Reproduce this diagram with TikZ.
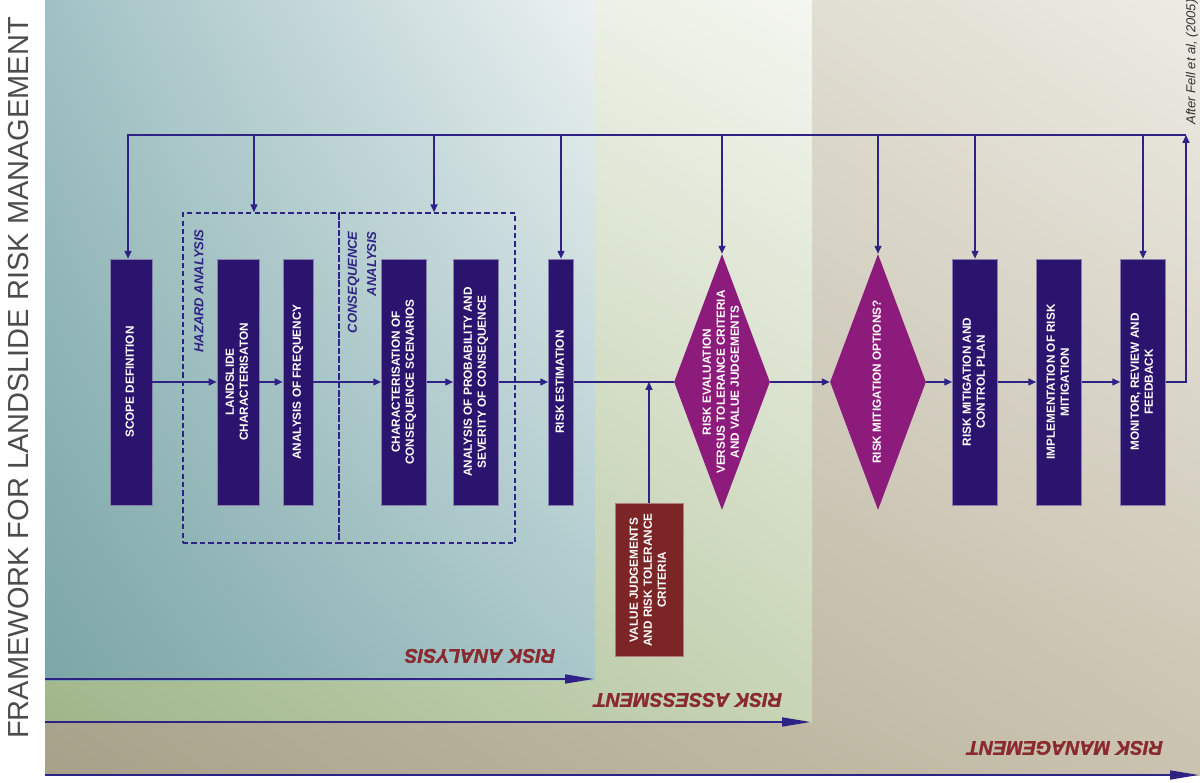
\documentclass[tikz,border=0pt]{standalone}
\usepackage{fontspec}
\setmainfont{Liberation Sans}
\newfontfamily\phasefont[FakeBold=1.6]{Liberation Sans}
\usepackage{graphicx}
\usetikzlibrary{shapes.geometric, arrows.meta, shadings}
\definecolor{navybox}{HTML}{2A146E}
\definecolor{flowline}{HTML}{2E2384}
\definecolor{magbox}{HTML}{8D1B7B}
\definecolor{redbox}{HTML}{7B2527}
\definecolor{redlab}{HTML}{8A2A2E}
% background corners
\definecolor{tanUL}{RGB}{200,195,176}\definecolor{tanUR}{RGB}{237,235,228}
\definecolor{tanLL}{RGB}{168,161,138}\definecolor{tanLR}{RGB}{201,195,175}
\definecolor{grnUL}{RGB}{216,226,202}\definecolor{grnUR}{RGB}{244,246,240}
\definecolor{grnLL}{RGB}{159,182,138}\definecolor{grnLR}{RGB}{200,213,182}
\definecolor{bluUL}{RGB}{160,193,196}\definecolor{bluUR}{RGB}{236,241,241}
\definecolor{bluLL}{RGB}{124,166,167}\definecolor{bluLR}{RGB}{169,199,202}
\newcommand{\vlab}[1]{\rotatebox{90}{\begin{tabular}{@{}c@{}}#1\end{tabular}}}
\tikzset{
  stagebox/.style  = {draw=navybox!55!white, line width=0.4pt, fill=navybox, text=white,
                      font=\fontsize{6.7}{8}\selectfont\bfseries, inner sep=0pt,
                      minimum height=4.92cm},
  inputbox/.style  = {stagebox, fill=redbox, draw=redbox!60!white},
  decision/.style  = {diamond, fill=magbox, inner sep=0pt,
                      minimum width=1.92cm, minimum height=5.12cm},
  dtext/.style     = {text=white, font=\fontsize{6.7}{8}\selectfont\bfseries, inner sep=0pt},
  groupframe/.style= {draw=flowline, dash pattern=on 3pt off 1.8pt, line width=0.9pt,
                      minimum height=6.6cm, inner sep=0pt},
  grouplab/.style  = {text=flowline, font=\fontsize{7.4}{11}\selectfont\bfseries\itshape,
                      inner sep=0pt, rotate=90, anchor=east},
  flow/.style      = {-{Triangle[length=4.5pt, width=4pt]}, line width=0.8pt, draw=flowline},
  plainline/.style = {line width=0.8pt, draw=flowline},
  phasearrow/.style= {-{Triangle[length=6mm, width=1.7mm]}, line width=1.7pt, draw=flowline},
  phaselab/.style  = {text=redlab, font=\phasefont\fontsize{11.2}{13}\selectfont\bfseries\itshape,
                      rotate=180, inner sep=0pt}
}

\begin{document}
\begin{tikzpicture}[x=0.02cm, y=-0.02cm]
\useasboundingbox (0,0) rectangle (1200,783);
% Phase backgrounds
\shade[upper left=tanUL, upper right=tanUR, lower left=tanLL, lower right=tanLR]
  (45,0) rectangle (1200,775);
\shade[upper left=grnUL, upper right=grnUR, lower left=grnLL, lower right=grnLR]
  (45,0) rectangle (812,722);
\shade[upper left=bluUL, upper right=bluUR, lower left=bluLL, lower right=bluLR]
  (45,0) rectangle (595,680);
% Title and source
\node[rotate=90, text=black!70, font=\fontsize{16.5}{18}\selectfont] (title) at (19,378)
  {FRAMEWORK FOR LANDSLIDE RISK MANAGEMENT};
\node[rotate=90, anchor=west, inner sep=0pt, text=black!80,
      font=\fontsize{7.4}{8}\selectfont\itshape] (source) at (1192,125) {After Fell et al, (2005)};
% Analysis groups
\node[groupframe, minimum width=3.12cm] (hazard) at (261,378) {};
\node[groupframe, minimum width=3.52cm] (conseq) at (427,378) {};
\node[grouplab] (hazlab) at (199,229) {HAZARD ANALYSIS};
\node[grouplab, align=right] (conlab) at (362,231) {CONSEQUENCE\\ANALYSIS};
% Process steps
\node[stagebox, minimum width=0.84cm] (scope) at (131,382) {\vlab{SCOPE DEFINITION}};
\node[stagebox, minimum width=0.84cm] (lands) at (238,382) {\vlab{LANDSLIDE\\CHARACTERISATON}};
\node[stagebox, minimum width=0.6cm]  (freq)  at (298,382) {\vlab{ANALYSIS OF FREQUENCY}};
\node[stagebox, minimum width=0.9cm]  (cons)  at (404,382) {\vlab{CHARACTERISATION OF\\CONSEQUENCE SCENARIOS}};
\node[stagebox, minimum width=0.9cm]  (prob)  at (476,382) {\vlab{ANALYSIS OF PROBABILITY AND\\SEVERITY OF CONSEQUENCE}};
\node[stagebox, minimum width=0.5cm]  (est)   at (561,382) {\vlab{RISK ESTIMATION}};
\node[decision, label={[dtext, name=evaltxt]center:{\vlab{RISK EVALUATION\\VERSUS TOLERANCE CRITERIA\\AND VALUE JUDGEMENTS}}}]
  (eval) at (722,382) {};
\node[decision, label={[dtext, name=opttxt]center:{\vlab{RISK MITIGATION OPTIONS?}}}]
  (opt) at (878,382) {};
\node[stagebox, minimum width=0.9cm]  (plan)  at (975,382) {\vlab{RISK MITIGATION AND\\CONTROL PLAN}};
\node[stagebox, minimum width=0.9cm]  (impl)  at (1059,382) {\vlab{IMPLEMENTATION OF RISK\\MITIGATION}};
\node[stagebox, minimum width=0.9cm]  (mon)   at (1143,382) {\vlab{MONITOR, REVIEW AND\\FEEDBACK}};
\node[inputbox, minimum width=1.36cm, minimum height=3.06cm] (value) at (649,580)
  {\vlab{VALUE JUDGEMENTS\\AND RISK TOLERANCE\\CRITERIA}};
% Main flow
\draw[flow] (scope.east) -- (lands.west);
\draw[flow] (lands.east) -- (freq.west);
\draw[flow] (freq.east) -- (cons.west);
\draw[flow] (cons.east) -- (prob.west);
\draw[flow] (prob.east) -- (est.west);
\draw[plainline] (est.east) -- (eval.west);
\draw[flow] (value.north) -- (value.north |- eval.west);
\draw[flow] (eval.east) -- (opt.west);
\draw[flow] (opt.east) -- (plan.west);
\draw[flow] (plan.east) -- (impl.west);
\draw[flow] (impl.east) -- (mon.west);
% Feedback loop
\coordinate (bus) at (0,135);
\coordinate (busend) at (1186,135);
\draw[flow] (mon.east) -| (busend);
\draw[flow] (busend) -- ([xshift=-1.7pt]scope.north |- bus) -- ([xshift=-1.7pt]scope.north);
\draw[flow] ([xshift=-4pt]hazard.north |- bus) -- ([xshift=-4pt]hazard.north);
\draw[flow] ([xshift=4pt]conseq.north |- bus) -- ([xshift=4pt]conseq.north);
\foreach \tgt in {est, eval, opt, plan, mon}
  \draw[flow] (\tgt.north |- bus) -- (\tgt.north);
% Phase arrows and labels
\coordinate (raS) at (45,679);  \coordinate (raE) at (595,679);
\coordinate (rsS) at (45,722);  \coordinate (rsE) at (812,722);
\coordinate (rmS) at (45,775);  \coordinate (rmE) at (1200,775);
\draw[phasearrow] (raS) -- (raE);
\draw[phasearrow] (rsS) -- (rsE);
\draw[phasearrow] (rmS) -- (rmE);
\node[phaselab] (ralab) at (480,656) {RISK ANALYSIS};
\node[phaselab] (rslab) at (688,700) {RISK ASSESSMENT};
\node[phaselab] (rmlab) at (1065,748) {RISK MANAGEMENT};
\end{tikzpicture}
\end{document}
